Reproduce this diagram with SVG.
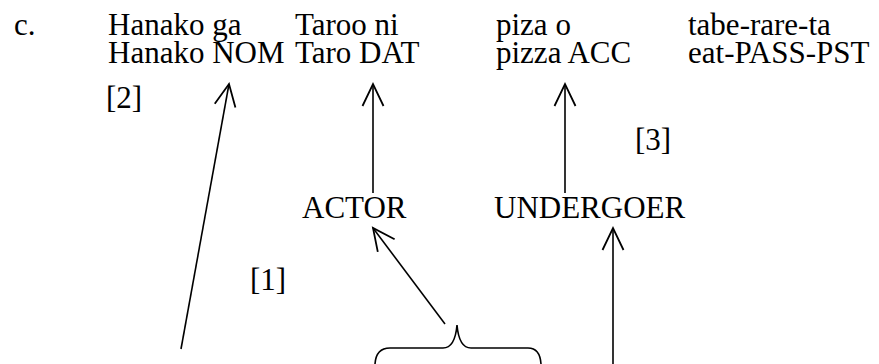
<svg xmlns="http://www.w3.org/2000/svg" width="879" height="364" viewBox="0 0 879 364">
<defs>
<style>
text{font-family:"Liberation Serif","Times New Roman",serif;font-size:31px;fill:#000}
.ln{stroke:#000;stroke-width:1.6;fill:none}
</style>
<marker id="ah" markerUnits="userSpaceOnUse" markerWidth="30" markerHeight="30" viewBox="-25 -15 30 30" refX="0" refY="0" orient="auto">
<path d="M-22,-10.5 L0,0 L-22,10.5" fill="none" stroke="#000" stroke-width="1.8"/>
</marker>
</defs>
<rect width="879" height="364" fill="#fff"/>
<g id="label-c"><text x="14" y="35">c.</text></g>
<g id="w1"><text x="108" y="35">Hanako ga</text><text x="108" y="63">Hanako NOM</text></g>
<g id="w2"><text x="295" y="35">Taroo ni</text><text x="295" y="63">Taro DAT</text></g>
<g id="w3"><text x="496" y="35">piza o</text><text x="496" y="63">pizza ACC</text></g>
<g id="w4"><text x="688" y="35">tabe-rare-ta</text><text x="688" y="63">eat-PASS-PST</text></g>
<g id="actor"><text x="302" y="218">ACTOR</text></g>
<g id="undergoer"><text x="494" y="218">UNDERGOER</text></g>
<g id="lab1"><text x="250" y="290">[1]</text></g>
<g id="lab2"><text x="106" y="108">[2]</text></g>
<g id="lab3"><text x="635" y="150">[3]</text></g>
<g id="brace"><path class="ln" d="M375,364 Q376,348 390,348 L443,348 Q455,348 457,325 Q459,348 471,348 L528,348 Q540,348 541,364"/></g>
<g id="connectors">
<line class="ln" x1="181" y1="349" x2="229" y2="84" marker-end="url(#ah)"/>
<line class="ln" x1="373" y1="193" x2="373" y2="84" marker-end="url(#ah)"/>
<line class="ln" x1="565" y1="193" x2="565" y2="84" marker-end="url(#ah)"/>
<line class="ln" x1="445" y1="324" x2="373" y2="228" marker-end="url(#ah)"/>
<line class="ln" x1="613" y1="364" x2="613" y2="228" marker-end="url(#ah)"/>
</g>
</svg>
